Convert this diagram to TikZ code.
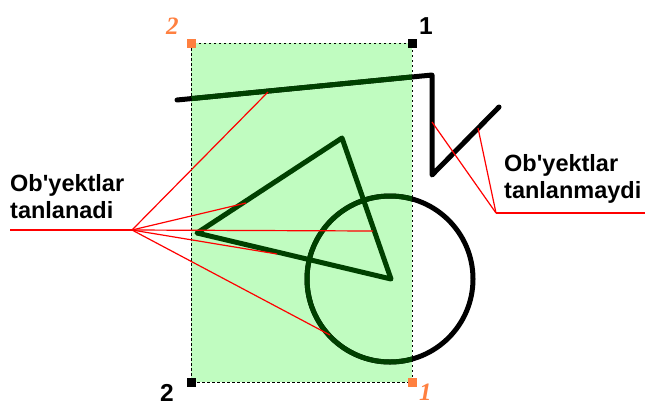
\documentclass[tikz,border=0pt]{standalone}
\usepackage{fontspec}
\setmainfont{Liberation Sans}[Ligatures=TeXOff]
\newfontfamily\serifit{Liberation Serif}
\definecolor{selgreen}{RGB}{192,252,192}
\definecolor{darkgrn}{RGB}{0,64,0}
\definecolor{orng}{RGB}{255,128,64}
\tikzset{
  objline/.style={line width=5pt, line cap=round, line join=round},
  redline/.style={red, line width=1.2pt},
  labline/.style={red, line width=1.8pt},
  labeltext/.style={font=\bfseries\fontsize{23.5}{27}\selectfont, align=left, inner sep=0pt, anchor=north west},
  cornum/.style={font=\bfseries\fontsize{24.5}{26}\selectfont, inner sep=0pt, anchor=base west},
  cornumo/.style={font=\serifit\bfseries\itshape\fontsize{25}{26}\selectfont, text=orng, inner sep=0pt, anchor=base west},
  handle/.style={minimum size=9pt, inner sep=0pt, draw=none}
}
\begin{document}
\begin{tikzpicture}[x=1pt,y=-1pt]
\useasboundingbox (0,0) rectangle (650,405);
% selection rectangle
\coordinate (R1) at (191,43);
\coordinate (R2) at (412,382);
\fill[selgreen] (R1) rectangle (R2);
% objects (black, outside)
\coordinate (L1) at (177,100);
\coordinate (L2) at (432,75);
\coordinate (L3) at (432,175);
\coordinate (L4) at (499,107);
\coordinate (T1) at (197,233);
\coordinate (T2) at (342,138);
\coordinate (T3) at (391,279);
\coordinate (C) at (390,279);
\draw[objline, black] (L1) -- (L2) -- (L3) -- (L4);
\draw[objline, black] (C) circle[radius=83];
% objects inside selection (dark green)
\begin{scope}
\clip (R1) rectangle (R2);
\draw[objline, darkgrn] (L1) -- (L2) -- (L3) -- (L4);
\draw[objline, darkgrn] (C) circle[radius=83];
\draw[objline, darkgrn] (T1) -- (T2) -- (T3) -- cycle;
\end{scope}
% dashed border
\draw[black, line width=0.6pt, dash pattern=on 2.5pt off 2.5pt] (R1) rectangle (R2);
% handles
\node[handle, fill=orng] (h1) at (191,43) {};
\node[handle, fill=black] (h2) at (412,43) {};
\node[handle, fill=black] (h3) at (191,382) {};
\node[handle, fill=orng] (h4) at (412,382) {};
% corner numbers
\node[cornumo] (n1) at (166,34) {2};
\node[cornum] (n2) at (419,34) {1};
\node[cornum] (n3) at (160,401) {2};
\node[cornumo] (n4) at (419,400) {1};
% left callout
\coordinate (HL) at (132,230);
\coordinate (LE) at (10,230);
\coordinate (a1) at (268,92);
\coordinate (a2) at (246,203);
\coordinate (a3) at (373,231);
\coordinate (a4) at (277,254);
\coordinate (a5) at (330,335);
\draw[labline] (LE) -- (HL);
\foreach \p in {a1,a2,a3,a4,a5} \draw[redline] (HL) -- (\p);
\node[labeltext] (tl) at (10,174.5) {Ob'yektlar\\tanlanadi};
% right callout
\coordinate (HR) at (496,213);
\coordinate (RE) at (645,213);
\coordinate (b1) at (432,122);
\coordinate (b2) at (478,128);
\draw[labline] (HR) -- (RE);
\foreach \p in {b1,b2} \draw[redline] (HR) -- (\p);
\node[labeltext] (tr) at (504,154.5) {Ob'yektlar\\tanlanmaydi};
\end{tikzpicture}
\end{document}
